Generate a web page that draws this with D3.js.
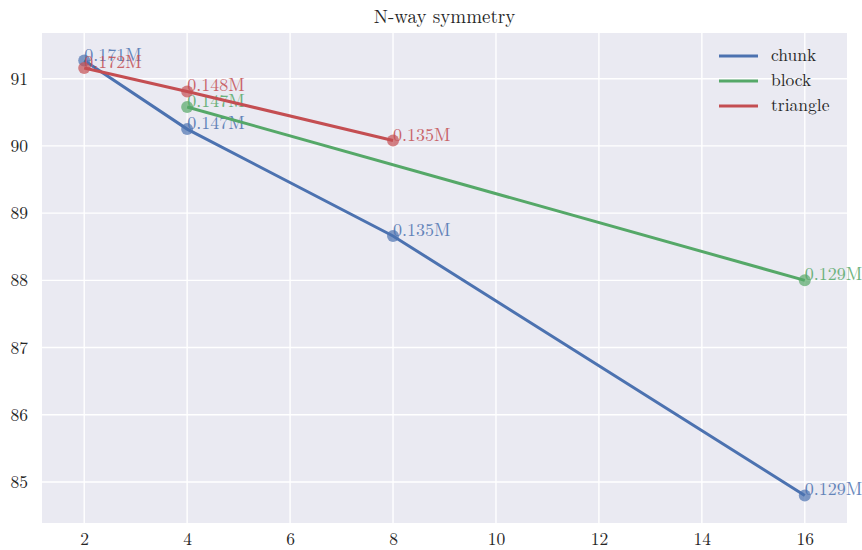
<!DOCTYPE html>
<html lang="en">
    <head>
        <meta charset="utf-8">
        <title>N-way symmetry</title>
        <script type="text/javascript" src="https://d3js.org/d3.v7.min.js"></script>
        <style>
            body { margin: 0; background: white; }
            text { font-family: "Latin Modern Roman", "CMU Serif", "DejaVu Serif", serif; fill: #262626; }
            .grid line { stroke: white; stroke-width: 1.4; }
        </style>
    </head>
    <body>
        <svg id="chart" width="862" height="550"></svg>
    </body>
    <script>
        // values
        let chunkX = [2, 4, 8, 16];
        let chunkY = [91.27, 90.25, 88.66, 84.80];
        let chunkLabels = ["0.171M", "0.147M", "0.135M", "0.129M"];

        let blockX = [4, 16];
        let blockY = [90.58, 88.0];
        let blockLabels = ["0.147M", "0.129M"];

        let triangleX = [2, 4, 8];
        let triangleY = [91.16, 90.81, 90.08];
        let triangleLabels = ["0.172M", "0.148M", "0.135M"];

        let xTicks = [2, 4, 6, 8, 10, 12, 14, 16];
        let yTicks = [85, 86, 87, 88, 89, 90, 91];

        let series = [
            {name: "chunk", xs: chunkX, ys: chunkY, labels: chunkLabels, color: "#4C72B0"},
            {name: "block", xs: blockX, ys: blockY, labels: blockLabels, color: "#55A868"},
            {name: "triangle", xs: triangleX, ys: triangleY, labels: triangleLabels, color: "#C44E52"}
        ];

        let svg = d3.select("#chart");
        let margin = {left: 42, top: 33, right: 15, bottom: 27};
        let width = 862 - margin.left - margin.right;
        let height = 550 - margin.top - margin.bottom;

        let x = d3.scaleLinear().domain([1.18, 16.82]).range([0, width]);
        let y = d3.scaleLinear().domain([84.39, 91.68]).range([height, 0]);

        let g = svg.append("g").attr("transform", `translate(${margin.left},${margin.top})`);

        g.append("rect")
            .attr("width", width)
            .attr("height", height)
            .attr("fill", "#EAEAF2");

        // grid
        let grid = g.append("g").attr("class", "grid");
        grid.selectAll(".vx")
            .data(xTicks)
            .enter()
            .append("line")
            .attr("x1", d => x(d)).attr("x2", d => x(d))
            .attr("y1", 0).attr("y2", height);
        grid.selectAll(".hy")
            .data(yTicks)
            .enter()
            .append("line")
            .attr("y1", d => y(d)).attr("y2", d => y(d))
            .attr("x1", 0).attr("x2", width);

        // axes (labels only, seaborn darkgrid has no ticks)
        let xAxis = g.append("g")
            .attr("transform", `translate(0,${height})`)
            .call(d3.axisBottom(x).tickValues(xTicks).tickSize(0).tickPadding(10));
        let yAxis = g.append("g")
            .call(d3.axisLeft(y).tickValues(yTicks).tickSize(0).tickPadding(14));
        [xAxis, yAxis].forEach(a => {
            a.select(".domain").remove();
            a.selectAll("text").style("font-size", "17.5px").attr("fill", "#262626");
        });

        let line = d3.line().x(d => x(d[0])).y(d => y(d[1]));

        series.forEach(s => {
            let pts = s.xs.map((v, i) => [v, s.ys[i], s.labels[i]]);
            g.append("path")
                .datum(pts)
                .attr("d", line)
                .attr("fill", "none")
                .attr("stroke", s.color)
                .attr("stroke-width", 3);
            g.selectAll(".dot-" + s.name)
                .data(pts)
                .enter()
                .append("circle")
                .attr("cx", d => x(d[0]))
                .attr("cy", d => y(d[1]))
                .attr("r", 6)
                .attr("fill", s.color)
                .attr("opacity", 0.7);
            g.selectAll(".lab-" + s.name)
                .data(pts)
                .enter()
                .append("text")
                .attr("x", d => x(d[0]))
                .attr("y", d => y(d[1]))
                .text(d => d[2])
                .style("font-size", "18px")
                .style("fill", s.color)
                .attr("opacity", 0.85);
        });

        // title
        svg.append("text")
            .attr("x", margin.left + width / 2)
            .attr("y", 23)
            .attr("text-anchor", "middle")
            .style("font-size", "19px")
            .text("N-way symmetry");

        // legend
        let legend = g.append("g").attr("transform", `translate(${719 - margin.left},${56 - margin.top})`);
        series.forEach((s, i) => {
            let row = legend.append("g").attr("transform", `translate(0,${i * 25})`);
            row.append("line")
                .attr("x1", 0).attr("x2", 39)
                .attr("stroke", s.color)
                .attr("stroke-width", 3);
            row.append("text")
                .attr("x", 52)
                .attr("y", 5)
                .style("font-size", "17.5px")
                .text(s.name);
        });
    </script>
</html>
